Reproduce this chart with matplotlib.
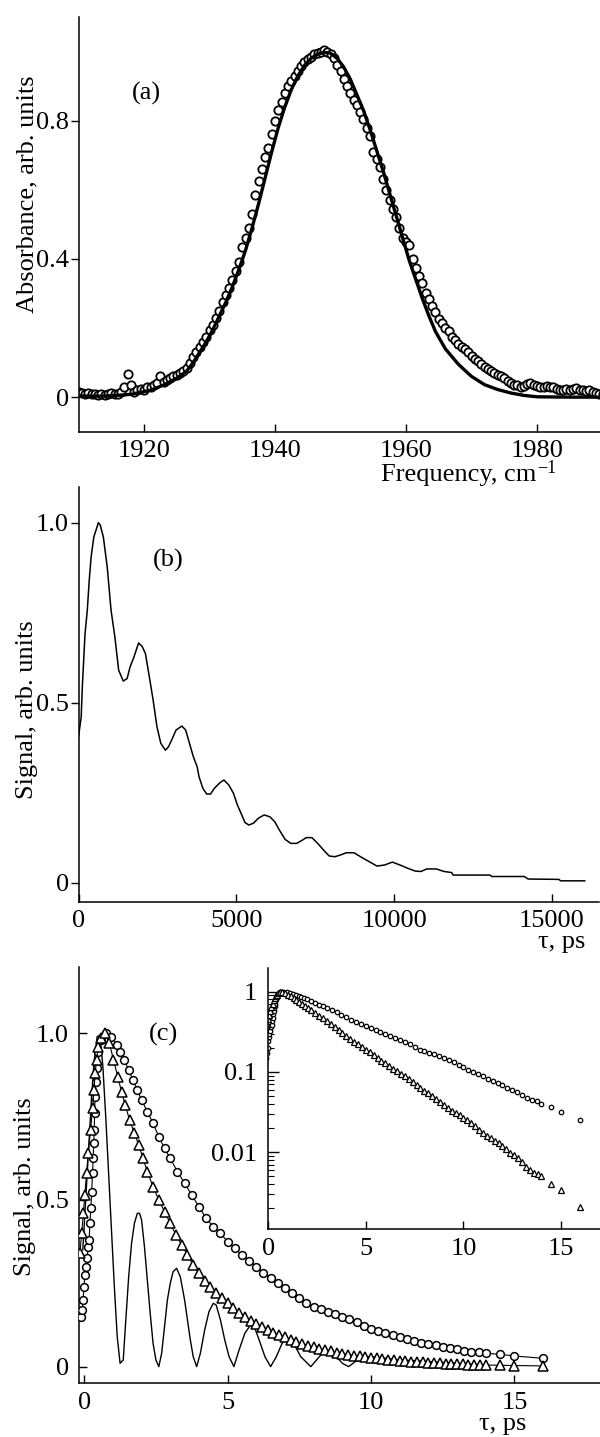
import numpy as np
import matplotlib
matplotlib.use('Agg')
import matplotlib.pyplot as plt
from matplotlib.ticker import LogLocator, NullFormatter

plt.rcParams['font.family'] = ['Liberation Serif', 'DejaVu Serif']
plt.rcParams['font.size'] = 19

# (a) absorption band, measured points (every 0.5 cm-1) and fit line
freq_pts = np.arange(1910, 1990.5, 0.5)
absorb_pts = [
    0.015, 0.012, 0.010, 0.012, 0.008, 0.010, 0.006, 0.008, 0.006, 0.010,
    0.012, 0.010, 0.008, 0.015, 0.030, 0.068, 0.035, 0.015, 0.020, 0.025,
    0.022, 0.028, 0.030, 0.035, 0.040, 0.060, 0.045, 0.050, 0.055, 0.060,
    0.065, 0.070, 0.075, 0.085, 0.100, 0.115, 0.130, 0.145, 0.160, 0.175,
    0.195, 0.210, 0.230, 0.250, 0.275, 0.295, 0.315, 0.340, 0.365, 0.390,
    0.435, 0.460, 0.490, 0.530, 0.585, 0.625, 0.660, 0.695, 0.720, 0.760,
    0.800, 0.830, 0.855, 0.880, 0.900, 0.915, 0.930, 0.945, 0.957, 0.970,
    0.978, 0.985, 0.992, 0.996, 1.000, 1.004, 1.000, 0.992, 0.980, 0.962,
    0.945, 0.920, 0.900, 0.880, 0.860, 0.845, 0.825, 0.805, 0.780, 0.755,
    0.710, 0.690, 0.665, 0.630, 0.600, 0.570, 0.545, 0.520, 0.490, 0.460,
    0.450, 0.440, 0.400, 0.375, 0.350, 0.330, 0.300, 0.285, 0.265, 0.245,
    0.225, 0.215, 0.200, 0.190, 0.175, 0.165, 0.155, 0.145, 0.138, 0.130,
    0.118, 0.110, 0.105, 0.095, 0.088, 0.080, 0.075, 0.070, 0.065, 0.060,
    0.055, 0.048, 0.040, 0.036, 0.035, 0.030, 0.032, 0.038, 0.040, 0.036,
    0.033, 0.030, 0.028, 0.032, 0.030, 0.028, 0.025, 0.020, 0.022, 0.025,
    0.020, 0.023, 0.026, 0.022, 0.020, 0.017, 0.020, 0.015, 0.012, 0.010,
    0.010,
]
fit_freq = [1910, 1914, 1918, 1921, 1923, 1925, 1926.5, 1927.5, 1928.5, 1929.5,
            1930.5, 1931.5, 1932.5, 1933.5, 1934.5, 1935.5, 1936.5, 1937.5, 1938.5,
            1939.5, 1940.5, 1941.5, 1942.5, 1943.5, 1944.5, 1945.5, 1946.5, 1947.5,
            1948.5, 1949.5, 1950.5, 1951.5, 1952.5, 1953.5, 1954.5, 1955.5, 1956.5,
            1957.5, 1958.5, 1959.5, 1960.5, 1961.5, 1962.5, 1963.5, 1964.5, 1966,
            1968, 1970, 1972, 1974, 1976, 1978, 1980, 1985, 1990]
fit_absorb = [0.003, 0.003, 0.008, 0.020, 0.035, 0.055, 0.075, 0.100, 0.130, 0.160,
              0.195, 0.235, 0.275, 0.320, 0.370, 0.425, 0.490, 0.560, 0.635,
              0.710, 0.780, 0.840, 0.890, 0.930, 0.960, 0.980, 0.993, 0.998,
              0.995, 0.980, 0.955, 0.920, 0.875, 0.830, 0.775, 0.715, 0.655,
              0.590, 0.525, 0.460, 0.395, 0.340, 0.285, 0.235, 0.190, 0.140,
              0.095, 0.060, 0.036, 0.022, 0.012, 0.005, 0.001, 0.0, 0.0]

# (b) signal vs delay, ps
tau_b = [0, 85, 121, 206, 279, 340, 400, 485, 630, 691, 788, 910, 1031, 1152, 1273,
         1419, 1540, 1637, 1758, 1904, 2025, 2122, 2244, 2365, 2486, 2608, 2753,
         2850, 2971, 3092, 3274, 3396, 3517, 3638, 3760, 3820, 3941, 4063, 4184,
         4305, 4487, 4608, 4766, 4911, 5033, 5154, 5275, 5397, 5542, 5700, 5882,
         6063, 6221, 6366, 6548, 6730, 6912, 7094, 7215, 7397, 7579, 7761, 7943,
         8125, 8307, 8489, 8731, 8974, 9217, 9459, 9702, 9944, 10187, 10429,
         10672, 10854, 11036, 11339, 11581, 11824, 11870, 13036, 13097, 14128,
         14249, 15219, 15280, 16040]
signal_b = [0.405, 0.46, 0.544, 0.69, 0.757, 0.84, 0.905, 0.96, 1.0, 0.993, 0.96,
            0.877, 0.757, 0.683, 0.59, 0.56, 0.567, 0.6, 0.627, 0.666, 0.655,
            0.636, 0.572, 0.507, 0.433, 0.387, 0.368, 0.377, 0.4, 0.424, 0.435,
            0.424, 0.387, 0.35, 0.322, 0.294, 0.262, 0.246, 0.246, 0.262, 0.278,
            0.285, 0.271, 0.248, 0.216, 0.192, 0.167, 0.16, 0.165, 0.179, 0.188,
            0.183, 0.169, 0.146, 0.12, 0.109, 0.109, 0.118, 0.125, 0.125, 0.109,
            0.091, 0.074, 0.072, 0.077, 0.083, 0.083, 0.07, 0.058, 0.046, 0.049,
            0.057, 0.049, 0.04, 0.032, 0.031, 0.038, 0.038, 0.031, 0.028, 0.021,
            0.021, 0.017, 0.017, 0.010, 0.009, 0.005, 0.005]

# (c) circles, triangles and the oscillating trace, ps
tau_circ = [-0.1, -0.07, -0.04, -0.01, 0.02, 0.06, 0.1, 0.14, 0.17, 0.2, 0.23, 0.26,
            0.29, 0.31, 0.33, 0.35, 0.36, 0.38, 0.41, 0.44, 0.49, 0.6, 0.75, 0.95,
            1.13, 1.25, 1.4, 1.55, 1.7, 1.85, 2.0, 2.2, 2.4, 2.6, 2.8, 3.0, 3.25,
            3.5, 3.75, 4.0, 4.25, 4.5, 4.75, 5.0, 5.25, 5.5, 5.75, 6.0, 6.25, 6.5,
            6.75, 7.0, 7.25, 7.5, 7.75, 8.0, 8.25, 8.5, 8.75, 9.0, 9.25, 9.5, 9.75,
            10.0, 10.25, 10.5, 10.75, 11.0, 11.25, 11.5, 11.75, 12.0, 12.25, 12.5,
            12.75, 13.0, 13.25, 13.5, 13.75, 14.0, 14.5, 15.0, 16.0]
sig_circ = [0.15, 0.17, 0.2, 0.24, 0.275, 0.3, 0.325, 0.36, 0.38, 0.43, 0.475, 0.525,
            0.58, 0.625, 0.67, 0.71, 0.76, 0.81, 0.855, 0.895, 0.945, 0.98, 1.0,
            0.99, 0.965, 0.945, 0.92, 0.89, 0.86, 0.83, 0.8, 0.765, 0.73, 0.69,
            0.655, 0.625, 0.585, 0.55, 0.515, 0.48, 0.445, 0.42, 0.4, 0.375, 0.355,
            0.335, 0.318, 0.3, 0.282, 0.265, 0.25, 0.235, 0.222, 0.205, 0.19, 0.18,
            0.172, 0.165, 0.158, 0.15, 0.142, 0.134, 0.122, 0.114, 0.107, 0.1,
            0.094, 0.088, 0.082, 0.077, 0.072, 0.068, 0.064, 0.06, 0.056, 0.052,
            0.048, 0.045, 0.043, 0.04, 0.037, 0.032, 0.025]
tau_tri = [-0.15, -0.09, -0.03, 0.02, 0.08, 0.14, 0.22, 0.29, 0.34, 0.38, 0.43, 0.49,
           0.6, 0.72, 0.88, 1.02, 1.17, 1.3, 1.43, 1.58, 1.75, 1.9, 2.05, 2.2, 2.4,
           2.6, 2.8, 3.0, 3.2, 3.4, 3.6, 3.8, 4.0, 4.2, 4.4, 4.6, 4.8, 5.0, 5.2,
           5.4, 5.6, 5.8, 6.0, 6.2, 6.4, 6.6, 6.8, 7.0, 7.2, 7.4, 7.6, 7.8, 8.0,
           8.2, 8.4, 8.6, 8.8, 9.0, 9.2, 9.4, 9.6, 9.8, 10.0, 10.2, 10.4, 10.6,
           10.8, 11.0, 11.2, 11.4, 11.6, 11.8, 12.0, 12.2, 12.4, 12.6, 12.8, 13.0,
           13.2, 13.4, 13.6, 13.8, 14.0, 14.5, 15.0, 16.0]
sig_tri = [0.34, 0.4, 0.46, 0.515, 0.58, 0.64, 0.71, 0.775, 0.83, 0.88, 0.92, 0.96,
           0.985, 1.0, 0.97, 0.92, 0.87, 0.825, 0.785, 0.74, 0.7, 0.665, 0.625,
           0.585, 0.54, 0.5, 0.465, 0.43, 0.395, 0.365, 0.335, 0.305, 0.28, 0.258,
           0.238, 0.22, 0.205, 0.19, 0.175, 0.162, 0.15, 0.138, 0.128, 0.12, 0.11,
           0.102, 0.095, 0.088, 0.081, 0.075, 0.069, 0.063, 0.058, 0.054, 0.05,
           0.046, 0.042, 0.039, 0.036, 0.033, 0.031, 0.029, 0.027, 0.025, 0.023,
           0.021, 0.019, 0.0175, 0.016, 0.015, 0.014, 0.013, 0.012, 0.011, 0.0098,
           0.0092, 0.0085, 0.0075, 0.0065, 0.006, 0.0056, 0.0053, 0.005, 0.004,
           0.0034, 0.0021]
tau_osc = [-0.05, 0.05, 0.15, 0.25, 0.35, 0.45, 0.55, 0.65, 0.75, 0.85, 0.95, 1.05,
           1.15, 1.25, 1.36, 1.45, 1.55, 1.65, 1.75, 1.85, 1.93, 2.0, 2.1, 2.2,
           2.3, 2.4, 2.5, 2.6, 2.7, 2.8, 2.9, 3.0, 3.1, 3.22, 3.35, 3.5, 3.6, 3.7,
           3.8, 3.92, 4.05, 4.2, 4.35, 4.5, 4.6, 4.75, 4.9, 5.05, 5.22, 5.4, 5.6,
           5.8, 5.95, 6.1, 6.3, 6.5, 6.7, 6.9, 7.1, 7.3, 7.55, 7.9, 8.1, 8.3, 8.55,
           8.8, 9.0, 9.22, 9.45, 9.7, 10.0, 10.5, 11.0, 12.0, 13.0, 14.0]
sig_osc = [0.35, 0.5, 0.65, 0.8, 0.92, 0.99, 0.995, 0.9, 0.75, 0.58, 0.41, 0.24,
           0.09, 0.01, 0.02, 0.14, 0.27, 0.37, 0.43, 0.46, 0.46, 0.44, 0.36, 0.26,
           0.16, 0.07, 0.02, 0.0, 0.04, 0.12, 0.2, 0.25, 0.285, 0.295, 0.27, 0.2,
           0.14, 0.08, 0.03, 0.0, 0.04, 0.11, 0.165, 0.19, 0.185, 0.14, 0.08, 0.03,
           0.0, 0.05, 0.1, 0.125, 0.115, 0.08, 0.03, 0.0, 0.03, 0.07, 0.085, 0.07,
           0.03, 0.0, 0.02, 0.04, 0.045, 0.03, 0.01, 0.0, 0.015, 0.03, 0.03, 0.025,
           0.02, 0.015, 0.01, 0.005]

W, H = 600, 1437
fig = plt.figure(figsize=(W / 100, H / 100), dpi=100)


def add_axes_px(left, top, right, bottom):
    return fig.add_axes([left / W, 1 - bottom / H, (right - left) / W, (bottom - top) / H])


def fig_text(x, y, s, **kw):
    fig.text(x / W, 1 - y / H, s, **kw)


def style_axes(ax, ydir='out', ylen=5.5, ypad=1.5):
    for side in ['top', 'right']:
        ax.spines[side].set_visible(False)
    for side in ['left', 'bottom']:
        ax.spines[side].set_linewidth(1.1)
    ax.tick_params(axis='x', direction='in', length=6, width=1, pad=6)
    ax.tick_params(axis='y', direction=ydir, length=ylen, width=1, pad=ypad)


# panel (a)
ax_a = add_axes_px(78.5, 17, 602.5, 431.7)
ax_a.plot(freq_pts, absorb_pts, 'o', ms=6.0, mfc='white', mec='black', mew=1.3, zorder=2)
ax_a.plot(fit_freq, fit_absorb, '-', color='black', lw=2.4, zorder=3)
ax_a.set_xlim(1910, 1990)
ax_a.set_ylim(-0.1, 1.1)
ax_a.set_xticks([1920, 1940, 1960, 1980])
ax_a.set_yticks([0, 0.4, 0.8])
ax_a.set_yticklabels(['0', '0.4', '0.8'])
style_axes(ax_a)
fig_text(146, 93, '(a)', ha='center', va='center')
fig_text(27, 194, 'Absorbance, arb. units', rotation=90, ha='center', va='center')
fig_text(536, 481, 'Frequency, cm', ha='right', va='baseline')
fig_text(537, 473, '\u22121', fontsize=13, ha='left', va='baseline')

# panel (b)
ax_b = add_axes_px(78.5, 486.7, 599.2, 901.7)
ax_b.plot(tau_b, signal_b, '-', color='black', lw=1.1)
ax_b.set_xlim(0, 16500)
ax_b.set_ylim(-0.053, 1.1)
ax_b.set_xticks([0, 5000, 10000, 15000])
ax_b.set_yticks([0, 0.5, 1.0])
ax_b.set_yticklabels(['0', '0.5', '1.0'])
style_axes(ax_b)
fig_text(168, 560, '(b)', ha='center', va='center')
fig_text(27, 710, 'Signal, arb. units', rotation=90, ha='center', va='center')
fig_text(585, 948, 'τ, ps', ha='right', va='baseline')

# panel (c)
ax_c = add_axes_px(78.5, 966.7, 600.4, 1383.3)
ax_c.plot(tau_osc, sig_osc, '-', color='black', lw=1.0, zorder=2)
ax_c.plot(tau_circ, sig_circ, '-o', color='black', lw=0.8, ms=5.6, mfc='white',
          mec='black', mew=1.1, zorder=3)
ax_c.plot(tau_tri, sig_tri, '-^', color='black', lw=0.8, ms=6.8, mfc='white',
          mec='black', mew=1.1, zorder=4)
ax_c.set_xlim(-0.2, 18)
ax_c.set_ylim(-0.05, 1.2)
ax_c.set_xticks([0, 5, 10, 15])
ax_c.set_yticks([0, 0.5, 1.0])
ax_c.set_yticklabels(['0', '0.5', '1.0'])
style_axes(ax_c, ydir='in', ylen=6, ypad=7)
fig_text(163, 1034, '(c)', ha='center', va='center')
fig_text(25, 1187, 'Signal, arb. units', rotation=90, ha='center', va='center')
fig_text(526, 1430, 'τ, ps', ha='right', va='baseline')

# inset, log scale
ax_in = add_axes_px(268.3, 968.3, 600, 1229.3)
ax_in.set_facecolor('none')
ax_in.plot(tau_circ, sig_circ, 'o', ms=3.2, mfc='white', mec='black', mew=0.9)
ax_in.plot(tau_tri, sig_tri, '^', ms=4.4, mfc='white', mec='black', mew=0.9)
ax_in.set_yscale('log')
ax_in.set_xlim(0, 17)
ax_in.set_ylim(0.0011, 1.95)
ax_in.set_xticks([0, 5, 10, 15])
ax_in.set_yticks([1, 0.1, 0.01])
ax_in.set_yticklabels(['1', '0.1', '0.01'])
ax_in.yaxis.set_minor_locator(LogLocator(base=10, subs=np.arange(2, 10)))
ax_in.yaxis.set_minor_formatter(NullFormatter())
style_axes(ax_in, ydir='in', ylen=8, ypad=8)
ax_in.tick_params(axis='y', which='minor', direction='in', length=4, width=0.8)

fig.savefig('out.png', dpi=100)
